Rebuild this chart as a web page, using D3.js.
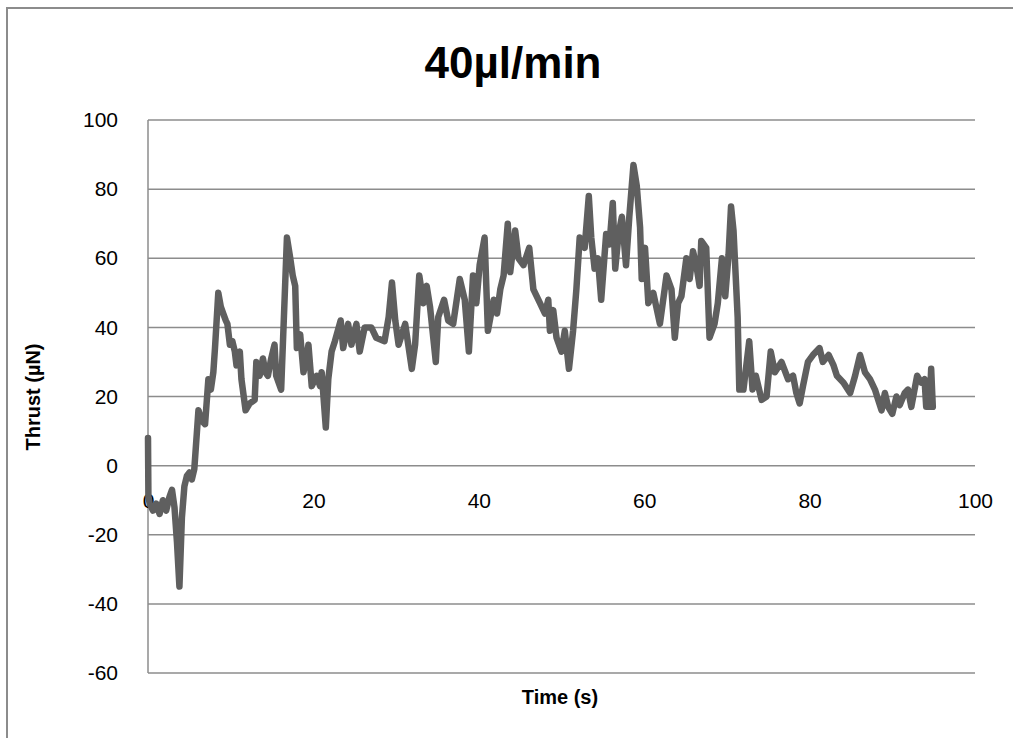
<!DOCTYPE html>
<html><head><meta charset="utf-8">
<script src="https://cdn.jsdelivr.net/npm/d3@7"></script>
<style>body{margin:0;background:#fff}svg{display:block}</style>
</head><body>
<script>
const title = "40µl/min";
const xLabel = "Time (s)";
const yLabel = "Thrust (µN)";
const xTicks = [0, 20, 40, 60, 80, 100];
const yTicks = [-60, -40, -20, 0, 20, 40, 60, 80, 100];
const time = [0,0.05,0.2,0.6,1.0,1.4,1.8,2.2,2.6,2.9,3.2,3.5,3.8,4.1,4.4,4.7,5.0,5.3,5.6,6.1,6.5,6.9,7.3,7.6,7.9,8.1,8.5,8.8,9.1,9.4,9.6,9.9,10.2,10.5,10.7,11.1,11.3,11.8,12.3,12.9,13.1,13.5,13.9,14.2,14.5,14.9,15.3,15.5,16.1,16.8,17.2,17.5,17.8,18.0,18.4,18.8,19.2,19.4,19.8,20.4,20.8,21.0,21.5,21.8,22.2,22.6,23.3,23.6,24.2,24.6,25.2,25.6,26.2,27.0,27.6,28.6,29.1,29.5,29.9,30.3,31.1,31.9,32.3,32.8,33.3,33.7,34.1,34.8,35.1,35.8,36.3,36.9,37.7,38.3,38.8,39.3,39.7,40.1,40.7,41.1,41.8,42.2,42.6,43.0,43.5,43.8,44.4,44.8,45.4,46.1,46.6,47.4,48.0,48.4,48.6,49.0,49.4,50.0,50.4,50.9,51.4,51.8,52.2,52.8,53.3,53.6,54.0,54.4,54.8,55.4,55.8,56.2,56.5,56.9,57.3,57.8,58.2,58.7,59.1,59.5,59.7,60.1,60.5,61.1,61.9,62.7,63.3,63.7,64.1,64.5,65.1,65.5,65.9,66.3,66.7,66.9,67.5,67.9,68.5,68.9,69.4,69.8,70.2,70.5,70.8,71.3,71.5,72.0,72.3,72.7,73.1,73.5,74.2,74.8,75.3,75.8,76.6,77.4,78.0,78.4,78.8,79.2,79.8,80.4,81.2,81.6,82.3,82.9,83.3,84.1,84.9,85.5,86.1,86.7,87.3,87.9,88.3,88.7,89.1,89.5,90.0,90.5,90.9,91.5,91.9,92.3,93.0,93.5,93.9,94.1,94.5,94.7,94.9];
const thrust = [8,-9,-11,-13,-11,-14,-10,-13,-9,-7,-12,-22,-35,-15,-6,-3,-2,-4,-1,16,13,12,25,22,27,34,50,46,44,42,41,35,36,33,29,33,25,16,18,19,30,26,31,27,26,31,35,26,22,66,60,55,52,34,38,27,32,35,23,26,23,27,11,25,33,36,42,34,41,35,41,33,40,40,37,36,43,53,42,35,41,28,35,55,47,52,46,30,43,48,42,41,54,48,33,55,47,58,66,39,48,44,51,55,70,56,68,60,58,63,51,47,44,48,39,45,37,33,39,28,39,51,66,63,78,66,57,60,48,67,64,76,57,67,72,58,72,87,81,69,54,63,47,50,41,55,51,37,47,49,60,54,62,58,52,65,63,37,41,47,60,49,61,75,68,43,22,22,28,36,22,26,19,20,33,27,30,25,26,21,18,23,30,32,34,30,32,29,26,24,21,26,32,27,25,22,19,16,21,17,15,20,17.5,21,22,17,26,24,25,17,17,28,17];

const W = 1013, H = 738;
const svg = d3.select("body").append("svg").attr("width", W).attr("height", H);
const FONT = "'Liberation Sans', Arial, sans-serif";
const grid = "#8c8c8c";

// outer frame
svg.append("path").attr("d", `M7,${H} L7,8 L${W},8`).attr("fill", "none").attr("stroke", grid).attr("stroke-width", 2);

const x = d3.scaleLinear().domain([0, 100]).range([148, 975]);
const y = d3.scaleLinear().domain([-60, 100]).range([673, 120]);

// gridlines
svg.append("g").selectAll("line").data(yTicks).join("line")
  .attr("x1", x(0)).attr("x2", x(100))
  .attr("y1", d => y(d)).attr("y2", d => y(d))
  .attr("stroke", grid).attr("stroke-width", 1.5);

// y axis line
svg.append("line").attr("x1", x(0)).attr("x2", x(0)).attr("y1", y(100)).attr("y2", y(-60))
  .attr("stroke", grid).attr("stroke-width", 1.5);

const fmt = d => String(d);

// y tick labels
const yAxis = d3.axisLeft(y).tickValues(yTicks).tickSize(0).tickPadding(30).tickFormat(fmt);
const gy = svg.append("g").attr("transform", `translate(${x(0)},0)`).call(yAxis);
gy.select(".domain").remove();
gy.selectAll("text").attr("font-family", FONT).attr("font-size", 21).attr("fill", "#000");

// x tick labels (at zero line)
const xAxis = d3.axisBottom(x).tickValues(xTicks).tickSize(0).tickPadding(27).tickFormat(fmt);
const gx = svg.append("g").attr("transform", `translate(0,${y(0)})`).call(xAxis);
gx.select(".domain").remove();
gx.selectAll("text").attr("font-family", FONT).attr("font-size", 21).attr("fill", "#000");

// line
const line = d3.line().x((d, i) => x(time[i])).y(d => y(d));
svg.append("path").datum(thrust).attr("d", line)
  .attr("fill", "none").attr("stroke", "#5f5f5f").attr("stroke-width", 6.5)
  .attr("stroke-linejoin", "round").attr("stroke-linecap", "round");

// title
svg.append("text").attr("x", 513).attr("y", 78).attr("text-anchor", "middle")
  .attr("font-family", FONT).attr("font-weight", "bold").attr("font-size", 44).text(title);

// axis titles
svg.append("text").attr("x", 560).attr("y", 704).attr("text-anchor", "middle")
  .attr("font-family", FONT).attr("font-weight", "bold").attr("font-size", 20).text(xLabel);
svg.append("text").attr("transform", "translate(40,397) rotate(-90)").attr("text-anchor", "middle")
  .attr("font-family", FONT).attr("font-weight", "bold").attr("font-size", 20).text(yLabel);
</script>
</body></html>
